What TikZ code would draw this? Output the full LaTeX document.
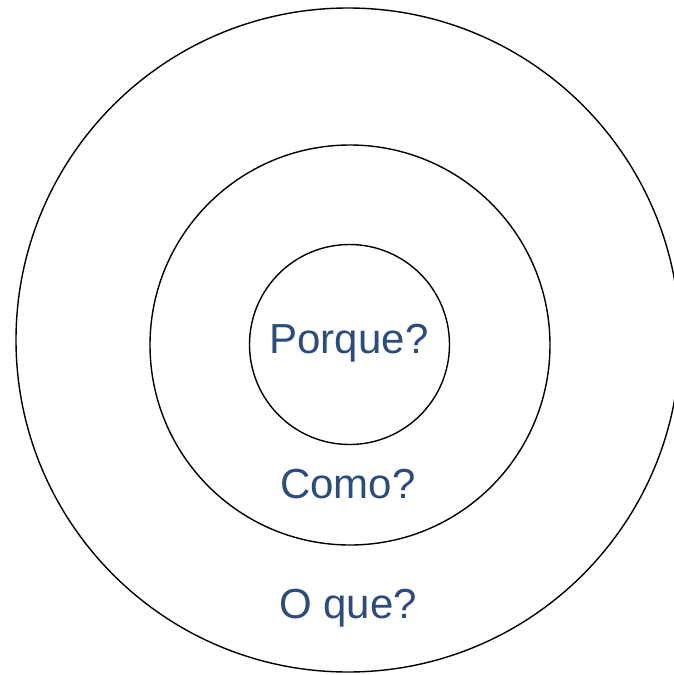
\documentclass[tikz,border=0pt]{standalone}
\usepackage{fontspec}
\setmainfont{Liberation Sans}
\definecolor{labelblue}{RGB}{44,76,124}

\tikzstyle{ring}=[circle, draw=black, line width=1.4pt, inner sep=0pt, fill=none]
\tikzstyle{question}=[anchor=base, text=labelblue, font=\fontsize{42}{50}\selectfont, inner sep=0pt]

\begin{document}
\begin{tikzpicture}[x=1pt, y=-1pt]

\useasboundingbox (0,0) rectangle (673,675);

\node(outer)[ring, minimum size=664pt] at (348,340) {};
\node(middle)[ring, minimum size=400pt] at (350,345) {};
\node(inner)[ring, minimum size=200pt] at (349.5,344.5) {};

\node(why)[question] at (349,353) {Porque?};
\node(how)[question] at (348,498) {Como?};
\node(what)[question] at (348,618) {O que?};

\end{tikzpicture}
\end{document}
